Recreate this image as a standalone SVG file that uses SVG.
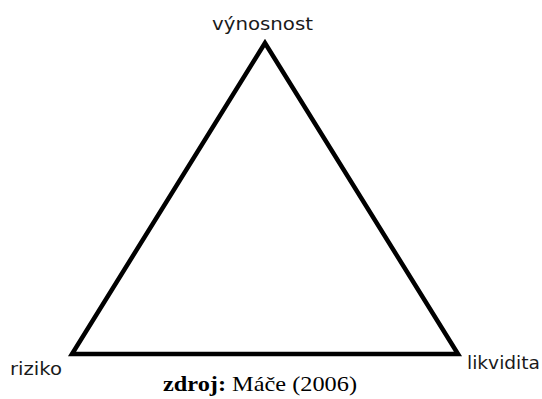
<svg xmlns="http://www.w3.org/2000/svg" width="542" height="399" viewBox="0 0 542 399">
<style>
.lbl{font-family:"DejaVu Sans",sans-serif;font-size:18.5px;fill:#1a1a1a}
.cap{font-family:"Liberation Serif",serif;font-size:22px;fill:#000}
.edge{fill:none;stroke:#000;stroke-width:4.5;stroke-linejoin:miter}
</style>
<rect width="542" height="399" fill="#fff"/>
<g id="connectors">
<polygon class="edge" points="265,43 72,354 458,354"/>
</g>
<g id="node-vynosnost"><text class="lbl" x="212" y="30" textLength="101" lengthAdjust="spacingAndGlyphs">výnosnost</text></g>
<g id="node-riziko"><text class="lbl" x="10" y="375" textLength="52" lengthAdjust="spacingAndGlyphs">riziko</text></g>
<g id="node-likvidita"><text class="lbl" x="467" y="369" textLength="73" lengthAdjust="spacingAndGlyphs">likvidita</text></g>
<g id="caption"><text class="cap" x="163" y="391" textLength="194" lengthAdjust="spacingAndGlyphs"><tspan font-weight="bold">zdroj:</tspan> Máče (2006)</text></g>
</svg>
